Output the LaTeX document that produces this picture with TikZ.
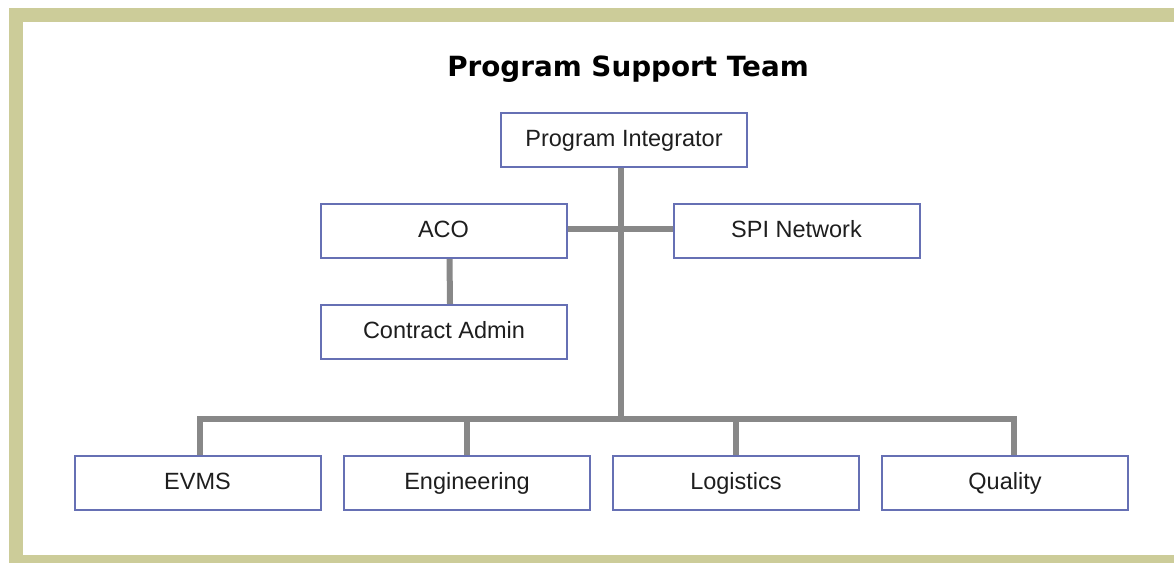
\documentclass[tikz,border=0pt]{standalone}
\usepackage{fontspec}
\setmainfont{Liberation Sans}
\newfontfamily\titlefont{DejaVu Sans}
\usetikzlibrary{backgrounds}
\definecolor{framekhaki}{HTML}{CCCC99}
\definecolor{boxblue}{HTML}{6670B4}
\definecolor{linkgray}{HTML}{888888}
\definecolor{labelink}{HTML}{1E1E1E}
\tikzset{
  orgbox/.style={draw=boxblue, line width=2pt, fill=white, minimum width=246pt,
    minimum height=54pt, inner sep=0pt, text=labelink, text height=17pt, text depth=5pt,
    font=\fontsize{23.5}{28}\selectfont},
  conn/.style={draw=linkgray, line width=6pt, line join=miter},
  titletext/.style={font=\titlefont\bfseries\fontsize{27.8}{32}\selectfont, text=black, inner sep=0pt}
}
\begin{document}
\begin{tikzpicture}[x=1pt, y=-1pt]
  \useasboundingbox (0,0) rectangle (1174,563);

  % title
  \node[titletext, anchor=base] (title) at (628,76) {Program Support Team};

  % boxes
  \node[orgbox] (pi)  at (624,140)   {Program Integrator};
  \node[orgbox] (aco) at (443.5,231) {ACO};
  \node[orgbox] (ca)  at (444,332)   {Contract Admin};
  \node[orgbox] (spi) at (796.5,231) {SPI Network};
  \node[orgbox] (evms) at (197.5,483) {EVMS};
  \node[orgbox] (eng)  at (467,483)   {Engineering};
  \node[orgbox] (log)  at (736,483)   {Logistics};
  \node[orgbox] (qual) at (1005,483)  {Quality};

  \coordinate (bus) at (621,419);

  \begin{scope}[on background layer]
    % khaki frame around a white panel
    \fill[white] (0,0) rectangle (1174,563);
    \fill[framekhaki] (9,8) rectangle (1174,563);
    \fill[white] (23,22) rectangle (1174,555);
    % connectors behind the boxes
    \draw[conn] ([xshift=-3pt]pi.south) -- ([xshift=-3pt]pi.south |- bus);
    \draw[conn] ([yshift=2pt]aco.east) -- ([yshift=2pt]spi.west);
    \draw[conn] ([xshift=6pt]aco.south) -- ([xshift=6pt]ca.north);
    \draw[conn] ([xshift=2.5pt]evms.north) |- (bus)
                -| ([xshift=9pt]qual.north);
    \draw[conn] (eng.north) -- (eng.north |- bus);
    \draw[conn] (log.north) -- (log.north |- bus);
  \end{scope}
\end{tikzpicture}
\end{document}
